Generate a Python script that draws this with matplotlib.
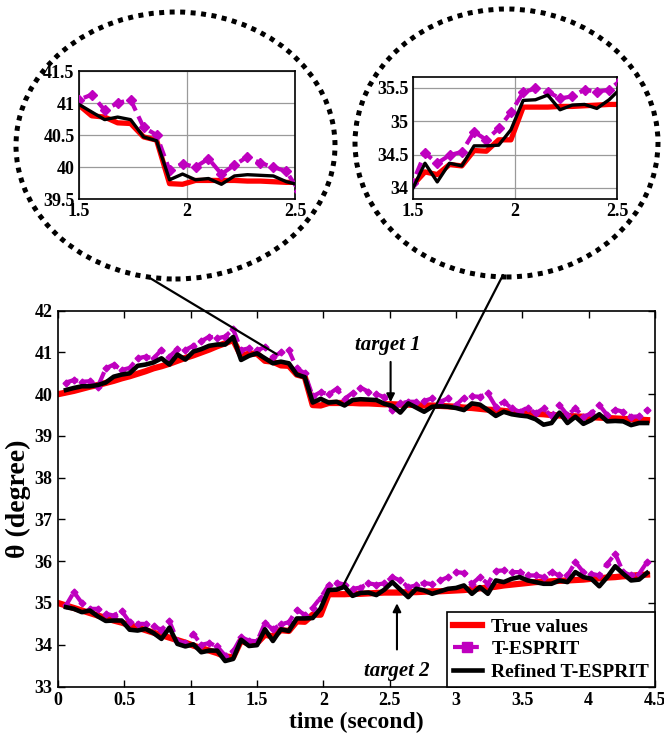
import numpy as np
import matplotlib
matplotlib.use("Agg")
import matplotlib.pyplot as plt
from matplotlib.patches import Ellipse, ConnectionPatch
from matplotlib.lines import Line2D

plt.rcParams['font.family'] = ['Liberation Serif', 'DejaVu Serif']
plt.rcParams['font.weight'] = 'bold'

# time grid (s): true values start at 0, the estimates at 0.06
time = np.round(np.arange(75) * 0.06, 2)
time_est = time[1:]

# target 1
true1 = [40.00, 40.04, 40.08, 40.13, 40.18, 40.22, 40.27, 40.32, 40.38, 40.43,
         40.49, 40.55, 40.62, 40.67, 40.73, 40.80, 40.87, 40.93, 41.00, 41.07,
         41.15, 41.22, 41.30, 40.92, 40.97, 40.97, 40.80, 40.78, 40.69, 40.68,
         40.47, 40.42, 39.74, 39.73, 39.79, 39.79, 39.79, 39.79, 39.78, 39.78,
         39.77, 39.76, 39.76, 39.75, 39.75, 39.74, 39.73, 39.73, 39.72, 39.71,
         39.70, 39.68, 39.67, 39.65, 39.63, 39.62, 39.60, 39.58, 39.56, 39.55,
         39.53, 39.52, 39.50, 39.49, 39.48, 39.47, 39.46, 39.45, 39.44, 39.43,
         39.42, 39.41, 39.40, 39.39, 39.38]
tesprit1 = [40.28, 40.34, 40.30, 40.31, 40.18, 40.62, 40.71, 40.58, 40.63, 40.86,
            40.90, 40.86, 41.06, 40.90, 41.08, 41.06, 41.16, 41.27, 41.38, 41.34,
            41.38, 41.56, 41.06, 41.10, 41.05, 41.13, 40.89, 41.00, 41.05, 40.62,
            40.50, 39.95, 40.05, 40.00, 40.13, 39.89, 40.03, 40.16, 40.06, 40.00,
            39.93, 39.62, 39.78, 39.82, 39.82, 39.84, 39.90, 39.82, 39.90, 39.74,
            39.92, 39.95, 39.94, 40.02, 39.70, 39.82, 39.66, 39.58, 39.68, 39.54,
            39.66, 39.47, 39.74, 39.50, 39.66, 39.46, 39.54, 39.74, 39.50, 39.63,
            39.58, 39.46, 39.47, 39.63]
refined1 = [40.10, 40.15, 40.19, 40.19, 40.22, 40.28, 40.42, 40.47, 40.50, 40.68,
            40.71, 40.76, 40.86, 40.71, 40.95, 40.83, 41.02, 41.08, 41.16, 41.19,
            41.19, 41.37, 40.82, 40.92, 40.98, 40.86, 40.74, 40.78, 40.74, 40.47,
            40.41, 39.80, 39.89, 39.80, 39.82, 39.73, 39.86, 39.88, 39.87, 39.86,
            39.77, 39.72, 39.56, 39.78, 39.68, 39.58, 39.70, 39.71, 39.70, 39.67,
            39.62, 39.78, 39.75, 39.62, 39.48, 39.58, 39.52, 39.49, 39.47, 39.40,
            39.27, 39.31, 39.56, 39.31, 39.46, 39.29, 39.38, 39.52, 39.35, 39.36,
            39.35, 39.26, 39.31, 39.31]

# target 2
true2 = [35.00, 34.94, 34.88, 34.82, 34.76, 34.70, 34.64, 34.58, 34.53, 34.47,
         34.41, 34.35, 34.29, 34.23, 34.17, 34.11, 34.05, 33.98, 33.92, 33.86,
         33.80, 33.72, 33.70, 34.10, 34.02, 34.04, 34.24, 34.20, 34.35, 34.33,
         34.56, 34.55, 34.72, 34.72, 35.21, 35.21, 35.21, 35.22, 35.22, 35.23,
         35.24, 35.25, 35.25, 35.25, 35.26, 35.26, 35.27, 35.28, 35.28, 35.29,
         35.30, 35.31, 35.33, 35.35, 35.37, 35.39, 35.42, 35.44, 35.46, 35.48,
         35.50, 35.51, 35.52, 35.53, 35.54, 35.55, 35.56, 35.58, 35.59, 35.61,
         35.62, 35.64, 35.65, 35.67, 35.68]
tesprit2 = [34.94, 35.26, 35.00, 34.86, 34.86, 34.74, 34.70, 34.81, 34.54, 34.50,
            34.50, 34.44, 34.36, 34.56, 34.10, 34.04, 34.26, 34.00, 34.04, 33.96,
            33.74, 33.84, 34.18, 34.10, 34.08, 34.52, 34.37, 34.49, 34.54, 34.84,
            34.72, 34.89, 35.13, 35.43, 35.49, 35.44, 35.34, 35.37, 35.47, 35.44,
            35.47, 35.62, 35.54, 35.38, 35.42, 35.48, 35.45, 35.54, 35.62, 35.74,
            35.72, 35.46, 35.62, 35.46, 35.77, 35.78, 35.74, 35.74, 35.66, 35.66,
            35.62, 35.74, 35.66, 35.66, 35.98, 35.74, 35.70, 35.66, 35.94, 36.18,
            35.74, 35.66, 35.70, 35.98]
refined2 = [34.90, 34.86, 34.78, 34.82, 34.68, 34.57, 34.58, 34.58, 34.36, 34.34,
            34.38, 34.28, 34.14, 34.41, 34.02, 33.96, 34.01, 33.82, 33.86, 33.86,
            33.61, 33.66, 34.12, 33.97, 33.99, 34.37, 34.09, 34.37, 34.33, 34.63,
            34.63, 34.64, 34.87, 35.31, 35.32, 35.39, 35.17, 35.24, 35.25, 35.19,
            35.32, 35.50, 35.32, 35.14, 35.34, 35.30, 35.22, 35.28, 35.34, 35.36,
            35.42, 35.22, 35.38, 35.22, 35.54, 35.50, 35.58, 35.62, 35.54, 35.50,
            35.46, 35.46, 35.54, 35.50, 35.74, 35.62, 35.58, 35.40, 35.62, 35.88,
            35.70, 35.54, 35.56, 35.72]

RED = '#ff0000'
MAG = '#bf00bf'
W, H = 664, 738

fig = plt.figure(figsize=(6.64, 7.38), dpi=100)

# main axes
ax = fig.add_axes([58 / W, 1 - 686.5 / H, 597 / W, 375.8 / H])
for tr, ts, rf in [(true1, tesprit1, refined1), (true2, tesprit2, refined2)]:
    ax.plot(time, tr, color=RED, lw=4.5, zorder=2)
    ax.plot(time_est, ts, color=MAG, lw=3, ls=(0, (3, 1.5)), marker='D', ms=3.5,
            mec=MAG, mfc=MAG, zorder=3)
    ax.plot(time_est, rf, color='black', lw=3.3, zorder=4)

ax.set_xlim(0, 4.5)
ax.set_ylim(33, 42)
ax.set_xticks(np.arange(0, 4.51, 0.5))
ax.set_xticklabels(['0', '0.5', '1', '1.5', '2', '2.5', '3', '3.5', '4', '4.5'])
ax.set_yticks(range(33, 43))
ax.tick_params(direction='in', top=True, right=True, length=5, width=1,
               labelsize=13, pad=4)
for lbl in ax.get_xticklabels() + ax.get_yticklabels():
    lbl.set_fontweight('bold')
for s in ax.spines.values():
    s.set_linewidth(1.2)
ax.set_xlabel('time (second)', fontsize=17, fontweight='bold')
ax.set_ylabel('θ (degree)', fontsize=20, fontweight='bold')
ax.xaxis.set_label_coords(0.5, -0.068)
ax.yaxis.set_label_coords(-0.046, 0.5)

# annotations
ax.text(2.487, 41.18, 'target 1', ha='center', va='center', fontsize=15,
        fontstyle='italic', fontweight='bold')
ax.annotate('', xy=(2.507, 39.74), xytext=(2.507, 40.84),
            arrowprops=dict(arrowstyle='-|>', color='black', lw=1.5,
                            mutation_scale=12))
ax.text(2.555, 33.38, 'target 2', ha='center', va='center', fontsize=15,
        fontstyle='italic', fontweight='bold')
ax.annotate('', xy=(2.555, 35.06), xytext=(2.555, 33.82),
            arrowprops=dict(arrowstyle='-|>', color='black', lw=1.5,
                            mutation_scale=12))

handles = [Line2D([], [], color=RED, lw=4.5),
           Line2D([], [], color=MAG, lw=3, ls=(0, (2.5, 1.2)), marker='s', ms=7),
           Line2D([], [], color='black', lw=3.3)]
leg = ax.legend(handles, ['True values', 'T-ESPRIT', 'Refined T-ESPRIT'],
                loc='lower right', borderaxespad=0, fancybox=False,
                edgecolor='black', framealpha=1, handlelength=1.5,
                handletextpad=0.5, labelspacing=0.25, borderpad=0.3,
                prop={'size': 14, 'weight': 'bold'})
leg.get_frame().set_linewidth(1.2)
leg.set_zorder(10)


def make_inset(rect, tr, ts, rf, ylim, yticks):
    ia = fig.add_axes(rect)
    ia.plot(time, tr, color=RED, lw=3.8, zorder=2)
    ia.plot(time_est, ts, color=MAG, lw=3, ls=(0, (3, 1.5)), marker='D', ms=5,
            mec=MAG, mfc=MAG, zorder=3)
    ia.plot(time_est, rf, color='black', lw=2.4, zorder=4)
    ia.set_xlim(1.5, 2.5)
    ia.set_ylim(*ylim)
    ia.set_xticks([1.5, 2, 2.5])
    ia.set_xticklabels(['1.5', '2', '2.5'])
    ia.set_yticks(yticks)
    ia.set_yticklabels([('%g' % v) for v in yticks])
    ia.grid(True, color='#9a9a9a', lw=0.9)
    ia.tick_params(length=0, labelsize=13, pad=3)
    for lbl in ia.get_xticklabels() + ia.get_yticklabels():
        lbl.set_fontweight('bold')
    for s in ia.spines.values():
        s.set_linewidth(1.2)
    return ia


make_inset([78.7 / W, 1 - 199 / H, 216.3 / W, 128 / H], true1, tesprit1,
           refined1, (39.5, 41.5), [39.5, 40, 40.5, 41, 41.5])
make_inset([412.7 / W, 1 - 199.3 / H, 204.6 / W, 122.6 / H], true2, tesprit2,
           refined2, (33.83, 35.665), [34, 34.5, 35, 35.5])

# dotted ellipses around the zoomed views
for cx, cy, ew, eh in [(175.5, 145.5, 319, 267), (506.5, 143, 303, 268)]:
    e = Ellipse((cx / W, 1 - cy / H), ew / W, eh / H, fill=False,
                edgecolor='black', lw=3.6, ls=(0, (1, 1.1)),
                transform=fig.transFigure)
    fig.patches.append(e)

# connector lines from ellipses to the curves
for fx, fy, dx, dy in [(147.7, 276.7, 1.648, 40.96), (503, 275, 2.15, 35.42)]:
    con = ConnectionPatch(xyA=(fx / W, 1 - fy / H), coordsA=fig.transFigure,
                          xyB=(dx, dy), coordsB=ax.transData,
                          color='black', lw=1.6, zorder=6)
    fig.add_artist(con)

fig.savefig('out.png', dpi=100)
